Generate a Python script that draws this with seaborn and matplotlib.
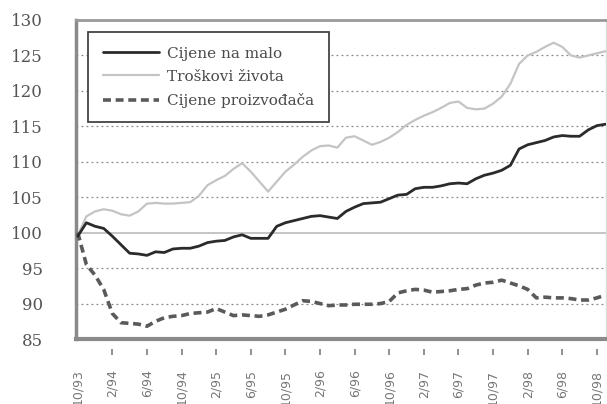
import numpy as np
import pandas as pd
import matplotlib
matplotlib.use('Agg')
import matplotlib.pyplot as plt
import seaborn as sns

# monthly indices, 10/93 = 100 ... 11/98
cijene_na_malo = [99.5, 101.4, 100.9, 100.6, 99.5, 98.3, 97.1, 97.0, 96.8, 97.3,
                  97.2, 97.7, 97.8, 97.8, 98.1, 98.6, 98.8, 98.9, 99.4, 99.7,
                  99.2, 99.2, 99.2, 100.9, 101.4, 101.7, 102.0, 102.3, 102.4, 102.2,
                  102.0, 103.0, 103.6, 104.1, 104.2, 104.3, 104.8, 105.3, 105.4, 106.2,
                  106.4, 106.4, 106.6, 106.9, 107.0, 106.9, 107.6, 108.1, 108.4, 108.8,
                  109.5, 111.8, 112.4, 112.7, 113.0, 113.5, 113.7, 113.6, 113.6, 114.5,
                  115.1, 115.3]
troskovi_zivota = [99.6, 102.3, 103.0, 103.3, 103.1, 102.6, 102.4, 103.0, 104.1, 104.2,
                   104.1, 104.1, 104.2, 104.3, 105.2, 106.7, 107.4, 108.0, 109.0, 109.8,
                   108.6, 107.2, 105.8, 107.2, 108.6, 109.6, 110.7, 111.6, 112.2, 112.3,
                   112.0, 113.4, 113.6, 113.0, 112.4, 112.8, 113.4, 114.2, 115.2, 115.9,
                   116.5, 117.0, 117.6, 118.3, 118.5, 117.6, 117.4, 117.5, 118.2, 119.2,
                   121.0, 123.8, 125.0, 125.5, 126.2, 126.8, 126.2, 125.0, 124.7, 125.0,
                   125.3, 125.6]
cijene_proizvodaca = [100.0, 95.5, 94.0, 92.0, 88.6, 87.3, 87.2, 87.1, 86.8, 87.5,
                      88.0, 88.2, 88.3, 88.6, 88.7, 88.8, 89.3, 88.8, 88.3, 88.4,
                      88.3, 88.2, 88.4, 88.8, 89.2, 89.8, 90.4, 90.3, 90.0, 89.7,
                      89.8, 89.8, 89.9, 89.9, 89.9, 90.0, 90.3, 91.5, 91.8, 92.0,
                      91.9, 91.6, 91.7, 91.8, 92.0, 92.1, 92.6, 92.9, 93.0, 93.3,
                      92.9, 92.5, 92.0, 90.8, 90.9, 90.8, 90.8, 90.7, 90.5, 90.5,
                      90.8, 91.2]
tick_labels = ['10/93', '2/94', '6/94', '10/94', '2/95', '6/95', '10/95', '2/96',
               '6/96', '10/96', '2/97', '6/97', '10/97', '2/98', '6/98', '10/98']
y_ticks = [85, 90, 95, 100, 105, 110, 115, 120, 125, 130]

df = pd.DataFrame({'mjesec': np.arange(len(cijene_na_malo)),
                   'Cijene na malo': cijene_na_malo,
                   'Troškovi života': troskovi_zivota,
                   'Cijene proizvođača': cijene_proizvodaca})

sns.set_theme(style='white')
plt.rcParams['font.family'] = ['DejaVu Serif', 'DejaVu Sans']

fig = plt.figure(figsize=(6.07, 4.04), dpi=100)
ax = fig.add_axes([76/607, 1-339/404, 530/607, 319/404])

# grid lines
for v in y_ticks[1:-1]:
    if v == 100:
        ax.axhline(v, color='#bbbbbb', lw=1.2, zorder=1)
    else:
        ax.axhline(v, color='#888888', lw=0.9, ls=(0, (1.5, 2.5)), zorder=1)

sns.lineplot(data=df, x='mjesec', y='Cijene na malo', ax=ax, color='#2b2b2b',
             lw=2, label='Cijene na malo', zorder=4)
sns.lineplot(data=df, x='mjesec', y='Troškovi života', ax=ax, color='#c4c4c4',
             lw=1.6, label='Troškovi života', zorder=3)
sns.lineplot(data=df, x='mjesec', y='Cijene proizvođača', ax=ax, color='#5a5a5a',
             lw=2.6, dashes=(2.2, 1.3), label='Cijene proizvođača', zorder=3)

ax.set_xlim(-0.2, 61.05)
ax.set_ylim(85, 130)
ax.set_xlabel('')
ax.set_ylabel('')

# frame
ax.spines['bottom'].set_color('#8a8a8a')
ax.spines['bottom'].set_linewidth(3)
ax.spines['left'].set_color('#8a8a8a')
ax.spines['left'].set_linewidth(2.5)
ax.spines['top'].set_color('#999999')
ax.spines['top'].set_linewidth(2)
ax.spines['right'].set_color('#dddddd')
ax.spines['right'].set_linewidth(1)

ax.set_yticks(y_ticks)
ax.set_yticklabels([str(v) for v in y_ticks], family='DejaVu Serif')
ax.set_xticks(np.arange(0, 61, 4))
ax.set_xticklabels(tick_labels, rotation=90, family='DejaVu Sans', fontsize=9,
                   color='#777777', va='top')
ax.tick_params(axis='y', length=0, pad=24, labelsize=12, labelcolor='#555555')
ax.tick_params(axis='x', length=0, pad=22)

# small tick marks standing apart below the frame
xt = ax.get_xticks()[1:]
ax.plot(xt, np.full(len(xt), -0.042), ls='none', marker='|', ms=4.5, mew=1.3,
        color='#888888', transform=ax.get_xaxis_transform(), clip_on=False)

leg = ax.legend(loc='upper left', bbox_to_anchor=(0.023, 0.962), borderaxespad=0,
                fontsize=11, handlelength=3.7, labelspacing=0.6, frameon=True,
                fancybox=False, framealpha=1, borderpad=0.95, handletextpad=0.5)
leg.get_frame().set_edgecolor('#444444')
leg.get_frame().set_linewidth(1.3)
for t in leg.get_texts():
    t.set_color('#4a4a4a')

fig.savefig('out.png', dpi=100)
